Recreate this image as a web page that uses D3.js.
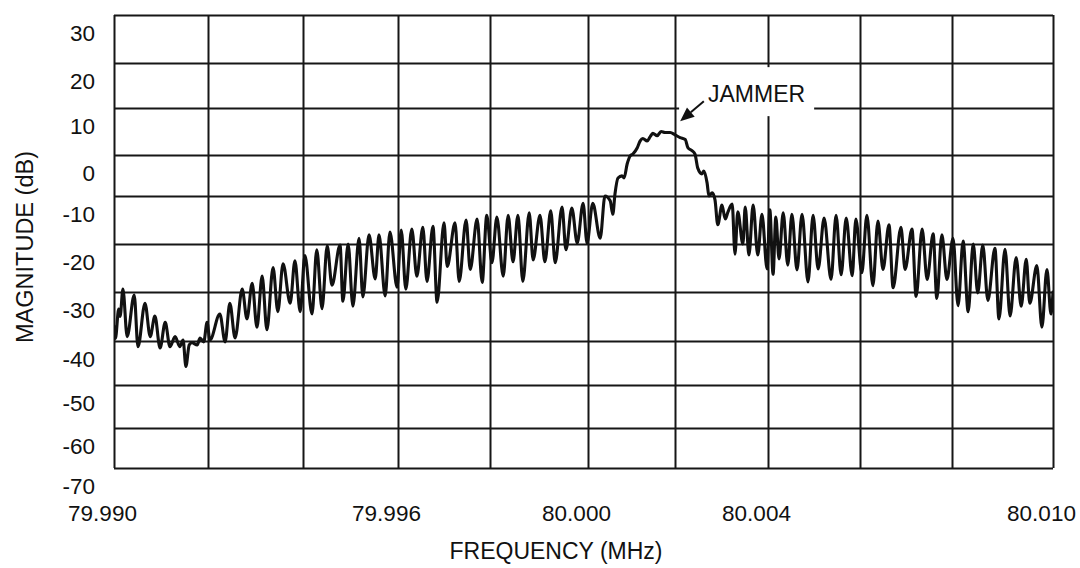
<!DOCTYPE html>
<html>
<head>
<meta charset="utf-8">
<script src="https://cdn.jsdelivr.net/npm/d3@7"></script>
<style>
  html, body { margin: 0; padding: 0; background: #ffffff; }
  svg { display: block; }
  text { font-family: "Liberation Sans", Arial, Helvetica, sans-serif; fill: #111; }
</style>
</head>
<body>
<svg id="chart" width="1080" height="568"></svg>
<script>
// ---------------- DATA ----------------
const freqMHz = [
  79.99000, 79.99003, 79.99010, 79.99013, 79.99019, 79.99028, 79.99043, 79.99051, 79.99066, 79.99077,
  79.99087, 79.99098, 79.99109, 79.99119, 79.99130, 79.99140, 79.99147, 79.99153, 79.99160, 79.99166,
  79.99177, 79.99183, 79.99191, 79.99198, 79.99204, 79.99225, 79.99236, 79.99246, 79.99257, 79.99272,
  79.99282, 79.99293, 79.99303, 79.99314, 79.99324, 79.99337, 79.99347, 79.99358, 79.99373, 79.99383,
  79.99394, 79.99404, 79.99419, 79.99429, 79.99440, 79.99451, 79.99461, 79.99478, 79.99484, 79.99495,
  79.99505, 79.99518, 79.99526, 79.99539, 79.99552, 79.99560, 79.99573, 79.99583, 79.99598, 79.99607,
  79.99617, 79.99630, 79.99641, 79.99654, 79.99663, 79.99676, 79.99685, 79.99700, 79.99707, 79.99724,
  79.99733, 79.99748, 79.99757, 79.99772, 79.99783, 79.99793, 79.99804, 79.99814, 79.99827, 79.99837,
  79.99847, 79.99857, 79.99867, 79.99880, 79.99888, 79.99902, 79.99912, 79.99924, 79.99933, 79.99947,
  79.99955, 79.99967, 79.99978, 79.99990, 79.99998, 80.00011, 80.00028, 80.00039, 80.00051, 80.00057,
  80.00062, 80.00069, 80.00078, 80.00083, 80.00090, 80.00097, 80.00103, 80.00113, 80.00120, 80.00126,
  80.00136, 80.00143, 80.00149, 80.00159, 80.00168, 80.00177, 80.00189, 80.00200, 80.00211, 80.00222,
  80.00228, 80.00237, 80.00243, 80.00249, 80.00258, 80.00262, 80.00269, 80.00273, 80.00280, 80.00286,
  80.00292, 80.00301, 80.00308, 80.00314, 80.00323, 80.00329, 80.00335, 80.00346, 80.00351, 80.00359,
  80.00368, 80.00378, 80.00387, 80.00398, 80.00404, 80.00411, 80.00417, 80.00424, 80.00433, 80.00443,
  80.00452, 80.00463, 80.00474, 80.00487, 80.00498, 80.00509, 80.00522, 80.00537, 80.00548, 80.00559,
  80.00570, 80.00583, 80.00591, 80.00604, 80.00615, 80.00628, 80.00639, 80.00650, 80.00663, 80.00672,
  80.00689, 80.00698, 80.00713, 80.00722, 80.00735, 80.00746, 80.00759, 80.00767, 80.00778, 80.00789,
  80.00802, 80.00812, 80.00822, 80.00832, 80.00842, 80.00851, 80.00861, 80.00871, 80.00885, 80.00893,
  80.00905, 80.00915, 80.00927, 80.00937, 80.00947, 80.00954, 80.00968, 80.00978, 80.00988, 80.00996,
  80.01000
];
const magDb = [
  -37.0, -39.5, -33.5, -35.0, -29.4, -39.1, -30.6, -41.3, -32.3, -39.1,
  -34.9, -41.6, -36.2, -41.3, -39.1, -41.3, -39.8, -45.8, -40.9, -40.4,
  -40.9, -39.4, -40.2, -36.2, -39.8, -34.5, -40.2, -32.3, -39.4, -29.4,
  -35.5, -28.2, -37.2, -26.7, -37.7, -24.9, -34.0, -24.1, -32.3, -23.5,
  -34.0, -22.4, -34.5, -21.2, -33.4, -20.4, -28.6, -20.2, -31.9, -20.0,
  -32.9, -18.8, -31.0, -18.1, -27.3, -18.1, -30.8, -17.5, -29.0, -17.1,
  -29.4, -16.9, -26.7, -16.5, -27.8, -16.3, -32.1, -15.6, -24.7, -15.6,
  -27.8, -15.0, -25.3, -14.8, -28.0, -14.0, -23.9, -14.4, -26.7, -14.0,
  -23.7, -14.0, -27.8, -13.5, -23.3, -14.0, -23.7, -13.1, -23.9, -12.3,
  -21.2, -12.5, -19.8, -11.5, -19.8, -11.5, -18.8, -10.0, -11.0, -13.8,
  -9.5, -5.6, -5.1, -5.6, -2.2, -0.2, 0.2, 1.5, 3.0, 3.5,
  3.0, 3.9, 4.6, 4.1, 5.0, 4.8, 4.8, 4.3, 3.7, 3.3,
  1.5, 0.9, 0.2, -3.2, -4.6, -3.9, -6.8, -10.0, -9.2, -10.8,
  -16.0, -11.9, -14.8, -13.3, -11.7, -22.1, -13.3, -20.0, -12.3, -22.3,
  -11.9, -22.3, -13.8, -25.2, -12.9, -26.3, -14.4, -23.1, -13.5, -24.4,
  -13.8, -25.4, -13.8, -27.9, -14.0, -25.2, -14.6, -27.4, -14.0, -26.4,
  -14.6, -26.6, -14.8, -26.0, -14.0, -28.7, -15.2, -25.3, -16.0, -29.1,
  -16.5, -25.3, -16.9, -30.9, -16.9, -27.4, -17.9, -31.3, -18.1, -27.4,
  -18.8, -32.8, -19.4, -34.0, -20.0, -30.2, -20.2, -31.7, -20.9, -35.5,
  -21.1, -34.9, -22.8, -32.9, -23.2, -32.3, -24.5, -37.2, -25.3, -34.5,
  -30.0
];
const yTickValues = [30, 20, 10, 0, -10, -20, -30, -40, -50, -60, -70];
const xGridValues = [79.990, 79.992, 79.994, 79.996, 79.998, 80.000, 80.002, 80.004, 80.006, 80.008, 80.010];
const xLabelValues = [79.990, 79.996, 80.000, 80.004, 80.010];
const xTitle = "FREQUENCY (MHz)";
const yTitle = "MAGNITUDE (dB)";
const noteText = "JAMMER";

// ---------------- LAYOUT (pixel positions of the scanned, slightly uneven grid) ----------------
const xGridPx = [114, 208, 303, 398, 490, 588, 675, 768, 860, 952, 1053];
const yGridPx = [15, 63, 108, 155, 196, 244, 292, 341, 385, 428, 468];
const noteAt = { f: 80.00271, db: 11.3 };      // label baseline start (data coords)
const arrowTip = { f: 80.00211, db: 7.2 };
const arrowTail = { f: 80.00262, db: 11.5 };

const svg = d3.select("#chart");
const x = d3.scaleLinear().domain(xGridValues).range(xGridPx);
const y = d3.scaleLinear().domain(yTickValues).range(yGridPx);
const pL = x(xGridValues[0]), pR = x(xGridValues[xGridValues.length - 1]);
const pT = y(yTickValues[0]), pB = y(yTickValues[yTickValues.length - 1]);
const ink = "#161616";
const hyphenFmt = d => String(d);            // plain hyphen-minus, as printed

// grid (vertical)
const gx = svg.append("g").attr("transform", `translate(0,${pB})`)
  .call(d3.axisBottom(x).tickValues(xGridValues).tickSize(-(pB - pT)).tickFormat(""));
gx.select(".domain").remove();
gx.selectAll("line").attr("stroke", ink).attr("stroke-width", 2);

// grid (horizontal)
const gy = svg.append("g").attr("transform", `translate(${pL},0)`)
  .call(d3.axisLeft(y).tickValues(yTickValues).tickSize(-(pR - pL)).tickFormat(""));
gy.select(".domain").remove();
gy.selectAll("line").attr("stroke", ink).attr("stroke-width", 2);

// y tick labels (printed a little below their grid lines, as in the original)
const ly = svg.append("g").attr("transform", `translate(${pL},0)`)
  .call(d3.axisLeft(y).tickValues(yTickValues).tickSize(0).tickPadding(19).tickFormat(hyphenFmt));
ly.select(".domain").remove();
ly.selectAll("text").attr("font-size", 22.5).attr("fill", ink)
  .attr("font-family", '"Liberation Sans", Arial, sans-serif')
  .attr("dy", "0.35em").attr("transform", "translate(0,18)");

// x tick labels
const lx = svg.append("g").attr("transform", `translate(0,${pB})`)
  .call(d3.axisBottom(x).tickValues(xLabelValues).tickSize(0).tickFormat(d3.format(".3f")));
lx.select(".domain").remove();
lx.selectAll("text").attr("font-size", 22.5).attr("fill", ink)
  .attr("font-family", '"Liberation Sans", Arial, sans-serif')
  .attr("y", 53).attr("dy", 0).attr("dx", -12);

// axis titles
svg.append("text").attr("x", 556).attr("y", 559).attr("text-anchor", "middle")
  .attr("font-size", 23).text(xTitle);
svg.append("text").attr("transform", "translate(33,247) rotate(-90)").attr("text-anchor", "middle")
  .attr("font-size", 23.5).text(yTitle);

// clip for trace
svg.append("defs").append("clipPath").attr("id", "plotclip")
  .append("rect").attr("x", pL).attr("y", pT).attr("width", pR - pL).attr("height", pB - pT);

// trace
const idx = d3.range(freqMHz.length);
const line = d3.line().x(i => x(freqMHz[i])).y(i => y(magDb[i])).curve(d3.curveMonotoneX);
svg.append("path").attr("clip-path", "url(#plotclip)")
  .attr("d", line(idx)).attr("fill", "none").attr("stroke", "#111")
  .attr("stroke-width", 3.1).attr("stroke-linejoin", "round").attr("stroke-linecap", "round");

// annotation
const note = svg.append("g");
const bg = note.append("rect").attr("fill", "#fff");
const nt = note.append("text").attr("x", x(noteAt.f)).attr("y", y(noteAt.db))
  .attr("font-size", 23).text(noteText);
const bb = nt.node().getBBox();
const tipX = x(arrowTip.f), tipY = y(arrowTip.db);
bg.attr("x", tipX - 1).attr("y", y(noteAt.db) - 35)
  .attr("width", bb.x + bb.width + 9 - (tipX - 1)).attr("height", 49);
const tailX = x(arrowTail.f), tailY = y(arrowTail.db);
const ang = Math.atan2(tailY - tipY, tailX - tipX);
const hl = 14, hw = 6;
const bx = tipX + hl * Math.cos(ang), by = tipY + hl * Math.sin(ang);
note.append("line").attr("x1", bx).attr("y1", by).attr("x2", tailX).attr("y2", tailY)
  .attr("stroke", "#111").attr("stroke-width", 2);
note.append("path").attr("fill", "#111")
  .attr("d", `M${tipX},${tipY} L${bx + hw * Math.sin(ang)},${by - hw * Math.cos(ang)} L${bx - hw * Math.sin(ang)},${by + hw * Math.cos(ang)} Z`);
</script>
</body>
</html>
